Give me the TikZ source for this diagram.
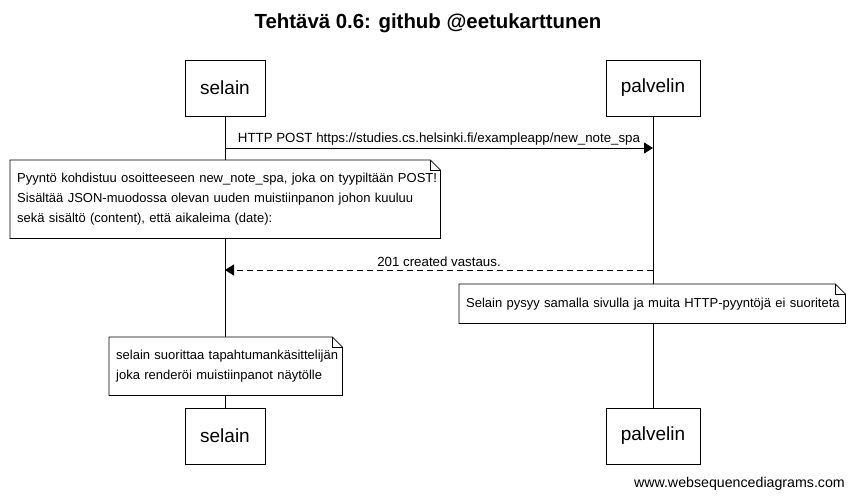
\documentclass[tikz,border=0pt]{standalone}
\usepackage{fontspec}
\setmainfont{Liberation Sans}
\usetikzlibrary{arrows.meta}
\hbadness=10000 \hfuzz=100pt
\begin{document}
\begin{tikzpicture}[x=1pt,y=-1pt,
  actorbox/.style={draw, line width=0.8pt, minimum width=80pt, minimum height=56pt, inner sep=0pt, font=\fontsize{19}{22}\selectfont},
  msg/.style={line width=0.8pt, -{Triangle[length=9pt,width=11pt]}},
  msglabel/.style={font=\fontsize{13.3}{15}\selectfont, inner sep=0pt},
  notebox/.style={fill=white, anchor=north west, align=left, inner xsep=7pt, inner ysep=0pt, font=\fontsize{13}{20}\selectfont},
  noteline/.style={line width=0.8pt},
  lifeline/.style={line width=0.8pt}
]
\useasboundingbox (0,0) rectangle (854,500);
\fill[white] (0,0) rectangle (854,500);

\node[font=\bfseries\fontsize{20.4}{24}\selectfont] (title) at (428,23) {Tehtävä 0.6: github @eetukarttunen};

\node[actorbox] (s1) at (225,88) {selain};
\node[actorbox, minimum width=94pt] (p1) at (653,88) {palvelin};
\node[actorbox] (s2) at (225,436) {selain};
\node[actorbox, minimum width=94pt] (p2) at (653,436) {palvelin};

\draw[lifeline] (s1.south) -- (s2.north);
\draw[lifeline] (p1.south) -- (p2.north);

% message 1
\coordinate (m1a) at (225,148);
\coordinate (m1b) at (653,148);
\draw[msg] (m1a) -- (m1b);
\node[msglabel] (l1) at (439,139) {HTTP POST https://studies.cs.helsinki.fi/exampleapp/new\_note\_spa};

% note 1
\node[notebox, text width=416pt, minimum height=78pt] (n1) at (10,160)
  {\mbox{Pyyntö kohdistuu osoitteeseen new\_note\_spa, joka on tyypiltään POST!}\\
   \mbox{Sisältää JSON-muodossa olevan uuden muistiinpanon johon kuuluu}\\
   \mbox{sekä sisältö (content), että aikaleima (date):}};
\draw[noteline] (n1.north west) -- ([xshift=-10pt]n1.north east) -- ([yshift=-10pt]n1.north east) -- (n1.south east) -- (n1.south west) -- cycle;
\draw[noteline] ([xshift=-10pt]n1.north east) -- ([xshift=-10pt,yshift=-10pt]n1.north east) -- ([yshift=-10pt]n1.north east);

% message 2
\coordinate (m2a) at (653,270);
\coordinate (m2b) at (225,270);
\draw[msg, dash pattern=on 6pt off 4pt] (m2a) -- (m2b);
\node[msglabel] (l2) at (439,262) {201 created vastaus.};

% note 2
\node[notebox, text width=372pt, minimum height=39pt] (n2) at (459,284)
  {\mbox{Selain pysyy samalla sivulla ja muita HTTP-pyyntöjä ei suoriteta}};
\draw[noteline] (n2.north west) -- ([xshift=-10pt]n2.north east) -- ([yshift=-10pt]n2.north east) -- (n2.south east) -- (n2.south west) -- cycle;
\draw[noteline] ([xshift=-10pt]n2.north east) -- ([xshift=-10pt,yshift=-10pt]n2.north east) -- ([yshift=-10pt]n2.north east);

% note 3
\node[notebox, text width=219pt, minimum height=58pt] (n3) at (109,337)
  {\mbox{selain suorittaa tapahtumankäsittelijän}\\
   \mbox{joka renderöi muistiinpanot näytölle}};
\draw[noteline] (n3.north west) -- ([xshift=-10pt]n3.north east) -- ([yshift=-10pt]n3.north east) -- (n3.south east) -- (n3.south west) -- cycle;
\draw[noteline] ([xshift=-10pt]n3.north east) -- ([xshift=-10pt,yshift=-10pt]n3.north east) -- ([yshift=-10pt]n3.north east);

\node[font=\fontsize{14.2}{16}\selectfont, anchor=east, inner sep=0pt] (footer) at (845,484) {www.websequencediagrams.com};
\end{tikzpicture}
\end{document}
